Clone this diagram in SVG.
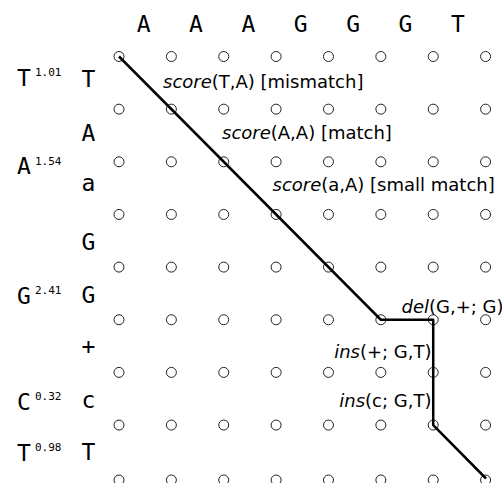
<svg xmlns="http://www.w3.org/2000/svg" width="502" height="483" viewBox="0 0 502 483">
  <style>
    .pt { fill: none; stroke: #222; stroke-width: 1; }
    .seq { font-family: "DejaVu Sans Mono", monospace; font-size: 23px; fill: #000; }
    .sup { font-family: "DejaVu Sans Mono", monospace; font-size: 11px; fill: #000; }
    .lbl { font-family: "DejaVu Sans", sans-serif; font-size: 18px; fill: #000; }
    .fn { font-style: italic; }
    .path { fill: none; stroke: #000; stroke-width: 2.5; stroke-linejoin: round; }
  </style>
  <rect width="502" height="483" fill="#fff"/>

  <!-- column sequence -->
  <g id="cols" class="seq" text-anchor="middle">
    <text x="143.7" y="32">A</text>
    <text x="196" y="32">A</text>
    <text x="248.4" y="32">A</text>
    <text x="300.8" y="32">G</text>
    <text x="353.2" y="32">G</text>
    <text x="405.5" y="32">G</text>
    <text x="458" y="32">T</text>
  </g>

  <!-- row sequence -->
  <g id="rows" class="seq" text-anchor="middle">
    <text x="88.5" y="86.7">T</text>
    <text x="88.5" y="141">A</text>
    <text x="88.5" y="191">a</text>
    <text x="88.5" y="250">G</text>
    <text x="88.5" y="303">G</text>
    <text x="88.5" y="354">+</text>
    <text x="88.5" y="408">c</text>
    <text x="88.5" y="460">T</text>
  </g>

  <!-- consensus with weights -->
  <g id="consensus">
    <text class="seq" x="17" y="85.5">T</text><text class="sup" x="35" y="76">1.01</text>
    <text class="seq" x="17" y="174">A</text><text class="sup" x="35" y="165">1.54</text>
    <text class="seq" x="17" y="303.5">G</text><text class="sup" x="35" y="294">2.41</text>
    <text class="seq" x="17" y="410">C</text><text class="sup" x="35" y="400">0.32</text>
    <text class="seq" x="17" y="461">T</text><text class="sup" x="35" y="451">0.98</text>
  </g>

  <!-- lattice points -->
  <g id="grid" class="pt">
    <g id="r0">
      <circle cx="119" cy="56.5" r="5"/><circle cx="171.37" cy="56.5" r="5"/><circle cx="223.74" cy="56.5" r="5"/><circle cx="276.11" cy="56.5" r="5"/>
      <circle cx="328.48" cy="56.5" r="5"/><circle cx="380.85" cy="56.5" r="5"/><circle cx="433.22" cy="56.5" r="5"/><circle cx="485.59" cy="56.5" r="5"/>
    </g>
    <g id="r1">
      <circle cx="119" cy="109.15" r="5"/><circle cx="171.37" cy="109.15" r="5"/><circle cx="223.74" cy="109.15" r="5"/><circle cx="276.11" cy="109.15" r="5"/>
      <circle cx="328.48" cy="109.15" r="5"/><circle cx="380.85" cy="109.15" r="5"/><circle cx="433.22" cy="109.15" r="5"/><circle cx="485.59" cy="109.15" r="5"/>
    </g>
    <g id="r2">
      <circle cx="119" cy="161.8" r="5"/><circle cx="171.37" cy="161.8" r="5"/><circle cx="223.74" cy="161.8" r="5"/><circle cx="276.11" cy="161.8" r="5"/>
      <circle cx="328.48" cy="161.8" r="5"/><circle cx="380.85" cy="161.8" r="5"/><circle cx="433.22" cy="161.8" r="5"/><circle cx="485.59" cy="161.8" r="5"/>
    </g>
    <g id="r3">
      <circle cx="119" cy="214.45" r="5"/><circle cx="171.37" cy="214.45" r="5"/><circle cx="223.74" cy="214.45" r="5"/><circle cx="276.11" cy="214.45" r="5"/>
      <circle cx="328.48" cy="214.45" r="5"/><circle cx="380.85" cy="214.45" r="5"/><circle cx="433.22" cy="214.45" r="5"/><circle cx="485.59" cy="214.45" r="5"/>
    </g>
    <g id="r4">
      <circle cx="119" cy="267.1" r="5"/><circle cx="171.37" cy="267.1" r="5"/><circle cx="223.74" cy="267.1" r="5"/><circle cx="276.11" cy="267.1" r="5"/>
      <circle cx="328.48" cy="267.1" r="5"/><circle cx="380.85" cy="267.1" r="5"/><circle cx="433.22" cy="267.1" r="5"/><circle cx="485.59" cy="267.1" r="5"/>
    </g>
    <g id="r5">
      <circle cx="119" cy="319.75" r="5"/><circle cx="171.37" cy="319.75" r="5"/><circle cx="223.74" cy="319.75" r="5"/><circle cx="276.11" cy="319.75" r="5"/>
      <circle cx="328.48" cy="319.75" r="5"/><circle cx="380.85" cy="319.75" r="5"/><circle cx="433.22" cy="319.75" r="5"/><circle cx="485.59" cy="319.75" r="5"/>
    </g>
    <g id="r6">
      <circle cx="119" cy="372.4" r="5"/><circle cx="171.37" cy="372.4" r="5"/><circle cx="223.74" cy="372.4" r="5"/><circle cx="276.11" cy="372.4" r="5"/>
      <circle cx="328.48" cy="372.4" r="5"/><circle cx="380.85" cy="372.4" r="5"/><circle cx="433.22" cy="372.4" r="5"/><circle cx="485.59" cy="372.4" r="5"/>
    </g>
    <g id="r7">
      <circle cx="119" cy="425.05" r="5"/><circle cx="171.37" cy="425.05" r="5"/><circle cx="223.74" cy="425.05" r="5"/><circle cx="276.11" cy="425.05" r="5"/>
      <circle cx="328.48" cy="425.05" r="5"/><circle cx="380.85" cy="425.05" r="5"/><circle cx="433.22" cy="425.05" r="5"/><circle cx="485.59" cy="425.05" r="5"/>
    </g>
    <g id="r8">
      <circle cx="119" cy="480" r="5"/><circle cx="171.37" cy="480" r="5"/><circle cx="223.74" cy="480" r="5"/><circle cx="276.11" cy="480" r="5"/>
      <circle cx="328.48" cy="480" r="5"/><circle cx="380.85" cy="480" r="5"/><circle cx="433.22" cy="480" r="5"/><circle cx="485.59" cy="480" r="5"/>
    </g>
  </g>

  <!-- alignment path -->
  <g id="connectors">
    <path class="path" d="M119,56.5 L380.85,319.75 L433.22,319.75 L433.22,425.05 L486,478.5"/>
  </g>

  <!-- step annotations -->
  <g id="labels" class="lbl">
    <text x="163" y="88"><tspan class="fn">score</tspan>(T,A) [mismatch]</text>
    <text x="222" y="139.3"><tspan class="fn">score</tspan>(A,A) [match]</text>
    <text x="272.5" y="190.7"><tspan class="fn">score</tspan>(a,A) [small match]</text>
    <text x="401.5" y="313"><tspan class="fn">del</tspan>(G,+; G)</text>
    <text x="431.5" y="357.7" text-anchor="end"><tspan class="fn">ins</tspan>(+; G,T)</text>
    <text x="431.5" y="406.7" text-anchor="end"><tspan class="fn">ins</tspan>(c; G,T)</text>
  </g>
</svg>
